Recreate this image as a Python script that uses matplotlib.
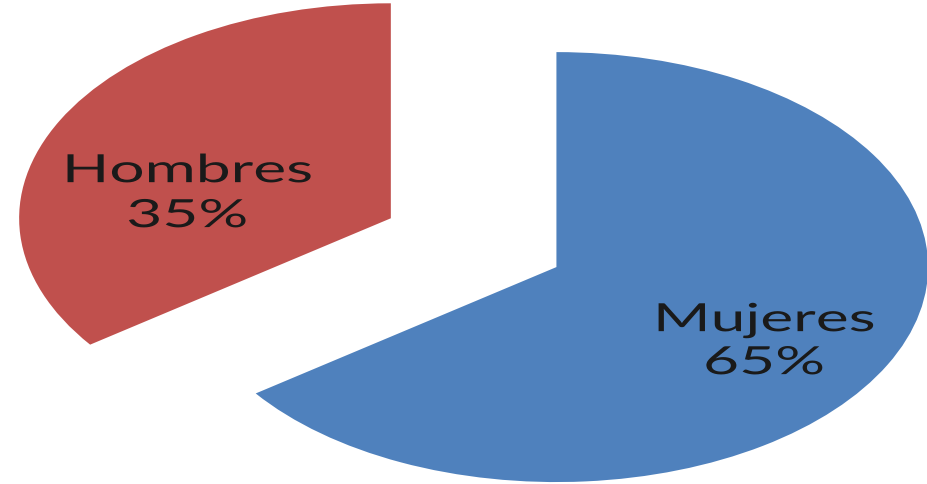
import matplotlib
matplotlib.use('Agg')
import matplotlib.pyplot as plt
from matplotlib.patheffects import AbstractPathEffect
from matplotlib.transforms import Affine2D

# data
labels = ['Mujeres', 'Hombres']
values = [65, 35]
colors = ['#4F81BD', '#C0504D']
explode = [0, 0.5]

# label positions (data coords, blue slice centre = 0,0): name baseline, pct baseline
label_x = [0.559, -0.993]
name_y = [-0.298, 0.395]
pct_y = [-0.498, 0.186]

STRETCH = 1.6


class Widen(AbstractPathEffect):
    """Stretch glyphs horizontally around the text anchor"""

    def __init__(self, text, sx):
        super().__init__()
        self.text = text
        self.sx = sx

    def draw_path(self, renderer, gc, tpath, affine, rgbFace=None):
        cx = self.text.get_transform().transform(self.text.get_position())[0]
        extra = Affine2D().translate(-cx, 0).scale(self.sx, 1).translate(cx, 0)
        renderer.draw_path(gc, tpath, affine + extra, rgbFace)


fig = plt.figure(figsize=(9.27, 4.85), dpi=100)
ax = fig.add_axes([0, 0, 1, 1])

ax.pie(values, colors=colors, explode=explode, startangle=90, counterclock=False,
       wedgeprops={'linewidth': 0})
ax.set_aspect('auto')
ax.set_xlim(-1.497, 0.997)
ax.set_ylim(-1.009, 1.247)
ax.axis('off')

for i, name in enumerate(labels):
    for txt, y in [(name, name_y[i]), (f'{values[i]}%', pct_y[i])]:
        t = ax.text(label_x[i], y, txt, ha='center', va='baseline',
                    fontsize=28, family='Lato', color='#1a1a1a')
        t.set_path_effects([Widen(t, STRETCH)])

plt.savefig('out.png', dpi=100)
plt.close()
